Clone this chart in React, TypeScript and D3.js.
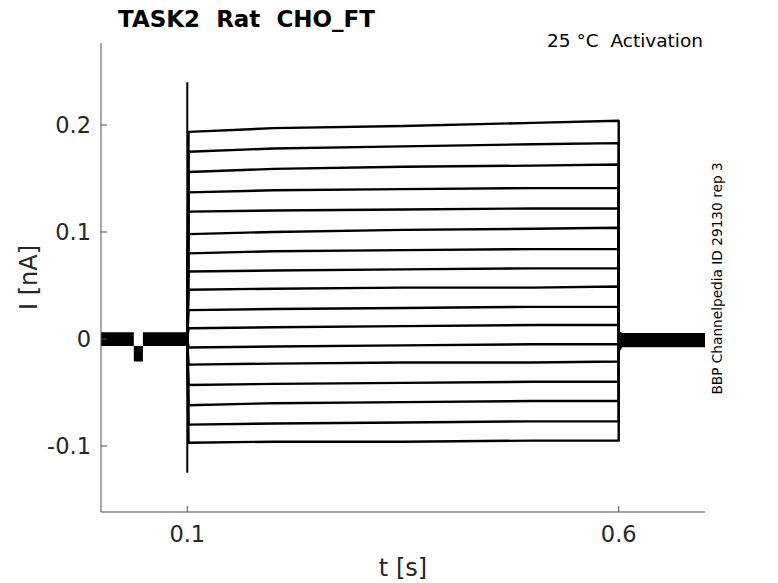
import React from "react";
import * as d3 from "d3";

// ---- data ----
const xTicks = [0.1, 0.6];
const yTicks = [-0.1, 0, 0.1, 0.2];
const yTickLabels = ["-0.1", "0", "0.1", "0.2"];
const xDomain = [0, 0.7];
const yDomain = [-0.1617, 0.2766];

// step-phase sample times (s)
const stepTimes = [0.1015, 0.2, 0.35, 0.5, 0.5995];
// steady currents of the 17 activation sweeps (nA) at stepTimes
const sweep01 = [0.1935, 0.197, 0.199, 0.202, 0.204];
const sweep02 = [0.175, 0.178, 0.18, 0.182, 0.183];
const sweep03 = [0.156, 0.159, 0.161, 0.162, 0.163];
const sweep04 = [0.137, 0.139, 0.14, 0.141, 0.141];
const sweep05 = [0.119, 0.12, 0.121, 0.122, 0.122];
const sweep06 = [0.098, 0.1, 0.102, 0.103, 0.104];
const sweep07 = [0.08, 0.082, 0.083, 0.084, 0.084];
const sweep08 = [0.063, 0.064, 0.065, 0.066, 0.066];
const sweep09 = [0.046, 0.047, 0.048, 0.048, 0.049];
const sweep10 = [0.027, 0.028, 0.029, 0.03, 0.03];
const sweep11 = [0.01, 0.011, 0.012, 0.013, 0.013];
const sweep12 = [-0.008, -0.007, -0.006, -0.005, -0.005];
const sweep13 = [-0.024, -0.023, -0.022, -0.022, -0.021];
const sweep14 = [-0.043, -0.042, -0.041, -0.04, -0.04];
const sweep15 = [-0.062, -0.06, -0.059, -0.058, -0.058];
const sweep16 = [-0.08, -0.079, -0.078, -0.077, -0.077];
const sweep17 = [-0.097, -0.096, -0.096, -0.095, -0.095];
const sweeps = [
  sweep01, sweep02, sweep03, sweep04, sweep05, sweep06, sweep07, sweep08, sweep09,
  sweep10, sweep11, sweep12, sweep13, sweep14, sweep15, sweep16, sweep17,
];
const stepOn = 0.1;
const stepOff = 0.6;

// capacitive spike at step onset
const spikeTimes = [0.1, 0.1];
const spikeValues = [0.24, -0.125];

// holding band (overlapping noisy sweeps) before the step
const holdTimes = [0, 0.038, 0.038, 0.0486, 0.0486, 0.1];
const holdUpper = [0.0062, 0.0062, -0.0066, -0.0066, 0.0062, 0.0062];
const holdLower = [-0.0066, -0.0066, -0.021, -0.021, -0.0066, -0.0066];

// band after the step
const postTimes = [0.6, 0.6015, 0.604, 0.7];
const postUpper = [0.01, 0.007, 0.0055, 0.0055];
const postLower = [-0.02, -0.011, -0.0078, -0.0078];

const W = 778;
const H = 583;
const M = { left: 101, right: 73, top: 43, bottom: 71 };

export default function App() {
  const x = d3.scaleLinear().domain(xDomain).range([M.left, W - M.right]);
  const y = d3.scaleLinear().domain(yDomain).range([H - M.bottom, M.top]);

  const line = d3
    .line<[number, number]>()
    .x((d) => x(d[0]))
    .y((d) => y(d[1]));

  const band = (ts: number[], up: number[], lo: number[]) =>
    d3
      .area<number>()
      .x((_, i) => x(ts[i]))
      .y0((_, i) => y(lo[i]))
      .y1((_, i) => y(up[i]))(ts.map((_, i) => i)) || "";

  const sweepPath = (vals: number[]) => {
    const pts: [number, number][] = [[stepOn, 0]];
    stepTimes.forEach((t, i) => pts.push([t, vals[i]]));
    pts.push([stepOff, vals[vals.length - 1]]);
    pts.push([stepOff, 0]);
    return line(pts) || "";
  };

  const axisColor = "#4d4d4d";
  const textColor = "#262626";
  const font = "DejaVu Sans, sans-serif";
  const x0 = M.left;
  const x1 = W - M.right;
  const yb = H - M.bottom;

  return (
    <svg
      width={W}
      height={H}
      style={{ position: "absolute", left: 0, top: 0, background: "#fff" }}
      fontFamily={font}
    >
      <rect x={0} y={0} width={W} height={H} fill="#fff" />
      {/* bands */}
      <path d={band(holdTimes, holdUpper, holdLower)} fill="#000" />
      <path d={band(postTimes, postUpper, postLower)} fill="#000" />
      {/* spike */}
      <path
        d={line(spikeTimes.map((t, i) => [t, spikeValues[i]] as [number, number])) || ""}
        stroke="#000"
        strokeWidth={2}
        fill="none"
      />
      {/* sweeps */}
      {sweeps.map((s, i) => (
        <path key={i} d={sweepPath(s)} stroke="#000" strokeWidth={2.4} fill="none" strokeLinejoin="round" />
      ))}
      {/* axes */}
      <line x1={x0} x2={x0} y1={M.top} y2={yb} stroke={axisColor} strokeWidth={1} />
      <line x1={x0} x2={x1} y1={yb} y2={yb} stroke={axisColor} strokeWidth={1} />
      {yTicks.map((v, i) => (
        <g key={"y" + i}>
          <line x1={x0} x2={x0 + 6} y1={y(v)} y2={y(v)} stroke={axisColor} />
          <text
            x={x0 - 10}
            y={y(v)}
            dy="0.36em"
            textAnchor="end"
            fontSize={22.5}
            fill={textColor}
          >
            {yTickLabels[i]}
          </text>
        </g>
      ))}
      {xTicks.map((v, i) => (
        <g key={"x" + i}>
          <line x1={x(v)} x2={x(v)} y1={yb} y2={yb - 6} stroke={axisColor} />
          <text x={x(v)} y={542} textAnchor="middle" fontSize={22.5} fill={textColor}>
            {String(v)}
          </text>
        </g>
      ))}
      {/* labels */}
      <text x={(x0 + x1) / 2} y={576} textAnchor="middle" fontSize={24} fill={textColor}>
        t [s]
      </text>
      <text
        transform={`translate(37,${(M.top + yb) / 2}) rotate(-90)`}
        textAnchor="middle"
        fontSize={24}
        fill={textColor}
      >
        I [nA]
      </text>
      <text
        x={246.5}
        y={27}
        textAnchor="middle"
        fontSize={23}
        fontWeight="bold"
        fill="#000"
        style={{ whiteSpace: "pre" }}
      >
        {"TASK2  Rat  CHO_FT"}
      </text>
      <text x={703} y={47} textAnchor="end" fontSize={18.5} fill="#000" style={{ whiteSpace: "pre" }}>
        {"25 °C  Activation"}
      </text>
      <text
        transform={`translate(722,278.5) rotate(-90)`}
        textAnchor="middle"
        fontSize={13.7}
        fill="#000"
      >
        BBP Channelpedia ID 29130 rep 3
      </text>
    </svg>
  );
}
